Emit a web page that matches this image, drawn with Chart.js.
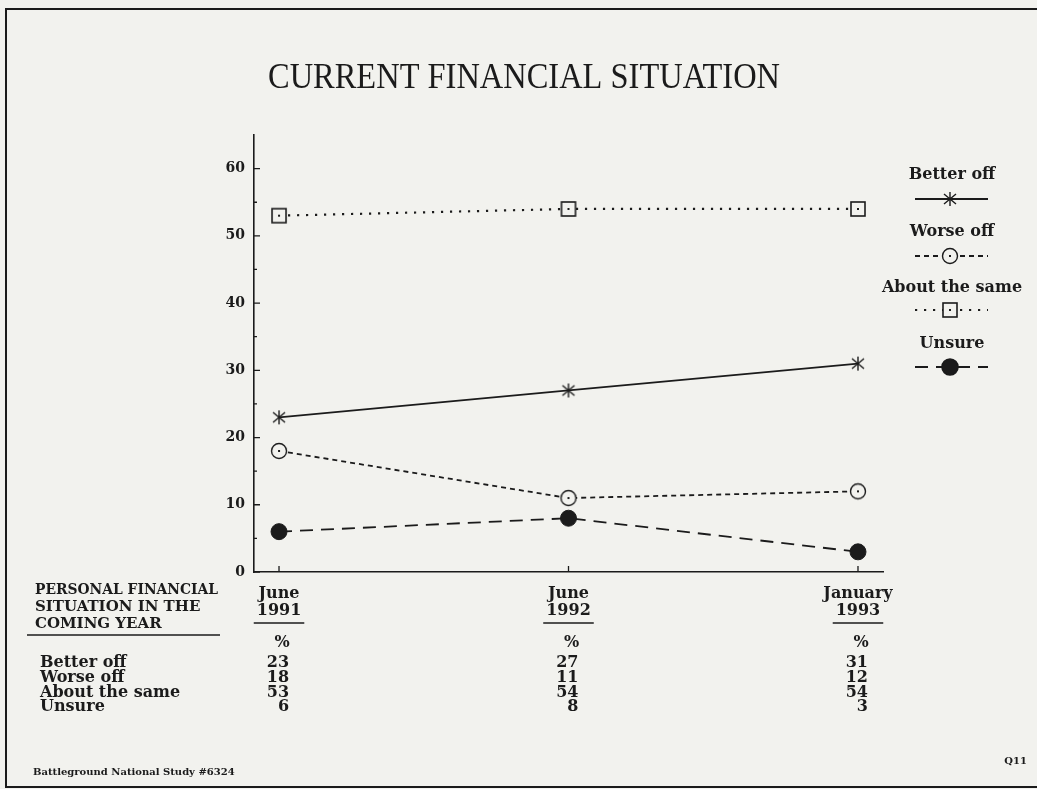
<!DOCTYPE html>
<html>
<head>
<meta charset="utf-8">
<title>Current Financial Situation</title>
<script src="https://cdn.jsdelivr.net/npm/chart.js@4.4.1/dist/chart.umd.min.js"></script>
<style>
  html, body { margin: 0; padding: 0; background: #f2f2ee; }
  #wrap { position: relative; width: 1037px; height: 789px; }
</style>
</head>
<body>
<div id="wrap"><canvas id="chart" width="1037" height="789"></canvas></div>
<script>
// datos
const periodos = [['June', '1991'], ['June', '1992'], ['January', '1993']];
const seriesNames = ['Better off', 'Worse off', 'About the same', 'Unsure'];
const betterOff = [23, 27, 31];
const worseOff = [18, 11, 12];
const aboutSame = [53, 54, 54];
const unsure = [6, 8, 3];
const yTicks = [0, 10, 20, 30, 40, 50, 60];
const yMinorTicks = [5, 15, 25, 35, 45, 55];
const titulo = 'CURRENT FINANCIAL SITUATION';
const tableHeader = ['PERSONAL FINANCIAL', 'SITUATION IN THE', 'COMING YEAR'];
const footer = 'Battleground National Study #6324';
const questionId = 'Q11';

const PAPER = '#f2f2ee';
const INK = '#1b1b1b';
const SERIF = "'DejaVu Serif', serif";

function markerCanvas(size, draw) {
    const c = document.createElement('canvas');
    c.width = size;
    c.height = size;
    const g = c.getContext('2d');
    g.strokeStyle = INK;
    g.fillStyle = INK;
    draw(g, size / 2);
    return c;
}

const asterisco = markerCanvas(18, (g, m) => {
    g.lineWidth = 1.4;
    g.beginPath();
    g.moveTo(m, m - 7); g.lineTo(m, m + 7);
    g.moveTo(m - 6, m - 5); g.lineTo(m + 6, m + 5);
    g.moveTo(m - 6, m + 5); g.lineTo(m + 6, m - 5);
    g.stroke();
});

const circuloPunto = markerCanvas(20, (g, m) => {
    g.lineWidth = 1.4;
    g.fillStyle = PAPER;
    g.beginPath();
    g.arc(m, m, 7.5, 0, Math.PI * 2);
    g.fill();
    g.stroke();
    g.fillStyle = INK;
    g.fillRect(m - 1, m - 1, 2, 2);
});

const cuadroPunto = markerCanvas(18, (g, m) => {
    g.lineWidth = 1.6;
    g.fillStyle = PAPER;
    g.fillRect(2, 2, 14, 14);
    g.strokeRect(2, 2, 14, 14);
    g.fillStyle = INK;
    g.fillRect(m - 1, m - 1, 2, 2);
});

const toPoints = arr => arr.map((v, i) => ({ x: i, y: v }));

const datasets = [
    { label: seriesNames[0], data: toPoints(betterOff), borderDash: [], borderWidth: 1.8, pointStyle: asterisco, pointRadius: 7, pointBackgroundColor: INK },
    { label: seriesNames[1], data: toPoints(worseOff), borderDash: [5, 4], borderWidth: 1.8, pointStyle: circuloPunto, pointRadius: 8, pointBackgroundColor: PAPER },
    { label: seriesNames[2], data: toPoints(aboutSame), borderDash: [2.2, 6.8], borderWidth: 2.2, pointStyle: cuadroPunto, pointRadius: 8, pointBackgroundColor: PAPER },
    { label: seriesNames[3], data: toPoints(unsure), borderDash: [13, 8], borderWidth: 1.8, pointStyle: 'circle', pointRadius: 8, pointBackgroundColor: INK }
].map(d => Object.assign(d, {
    borderColor: INK,
    pointBorderColor: INK,
    pointBorderWidth: 1,
    tension: 0
}));

const tableRows = [betterOff, worseOff, aboutSame, unsure];

// todo lo que no es del eje: titulo, leyenda, tabla, pie
const decoracion = {
    id: 'decoracion',
    afterDraw(chart) {
        const ctx = chart.ctx;
        const x = chart.scales.x;
        const y = chart.scales.y;
        ctx.save();
        ctx.strokeStyle = INK;
        ctx.fillStyle = INK;

        // marco
        ctx.lineWidth = 2;
        ctx.beginPath();
        ctx.moveTo(1037, 9); ctx.lineTo(6, 9); ctx.lineTo(6, 787); ctx.lineTo(1037, 787);
        ctx.stroke();

        // titulo
        ctx.font = "35px 'Liberation Serif', serif";
        ctx.textAlign = 'left';
        ctx.textBaseline = 'middle';
        ctx.fillText(titulo, 268, 79, 512);

        // marcas de los ejes
        ctx.lineWidth = 1.3;
        ctx.beginPath();
        yTicks.forEach(v => {
            const py = y.getPixelForValue(v);
            ctx.moveTo(x.left, py); ctx.lineTo(x.left + 6, py);
        });
        yMinorTicks.forEach(v => {
            const py = y.getPixelForValue(v);
            ctx.moveTo(x.left, py); ctx.lineTo(x.left + 3, py);
        });
        periodos.forEach((p, i) => {
            const px = x.getPixelForValue(i);
            ctx.moveTo(px, y.bottom); ctx.lineTo(px, y.bottom - 6);
        });
        ctx.stroke();

        // subrayado de los anos y columnas de la tabla
        ctx.font = 'bold 16px ' + SERIF;
        ctx.lineWidth = 1.6;
        periodos.forEach((p, i) => {
            const px = x.getPixelForValue(i);
            const w = ctx.measureText(p[1]).width + 6;
            ctx.beginPath();
            ctx.moveTo(px - w / 2, 623); ctx.lineTo(px + w / 2, 623);
            ctx.stroke();
        });

        ctx.font = 'bold 16px ' + SERIF;
        ctx.textBaseline = 'middle';
        periodos.forEach((p, i) => {
            const px = x.getPixelForValue(i);
            ctx.textAlign = 'center';
            ctx.fillText('%', px + 3, 643);
            ctx.textAlign = 'right';
            tableRows.forEach((row, r) => {
                ctx.fillText(String(row[i]), px + 10, 663 + r * 14.7);
            });
        });

        ctx.textAlign = 'left';
        seriesNames.forEach((name, r) => {
            ctx.fillText(name, 40, 663 + r * 14.7);
        });

        // cabecera de la tabla
        ctx.font = 'bold 15px ' + SERIF;
        tableHeader.forEach((line, r) => {
            ctx.fillText(line, 35, 590 + r * 17, 183);
        });
        ctx.lineWidth = 1.6;
        ctx.beginPath();
        ctx.moveTo(27, 635); ctx.lineTo(220, 635);
        ctx.stroke();

        // leyenda
        const legTextY = [175, 232, 288, 344];
        const legLineY = [199, 256, 310, 367];
        chart.data.datasets.forEach((ds, i) => {
            ctx.font = 'bold 16px ' + SERIF;
            ctx.textAlign = 'center';
            ctx.fillStyle = INK;
            ctx.fillText(ds.label, 952, legTextY[i]);
            ctx.save();
            ctx.lineWidth = ds.borderWidth;
            ctx.setLineDash(ds.borderDash);
            ctx.beginPath();
            ctx.moveTo(915, legLineY[i]); ctx.lineTo(988, legLineY[i]);
            ctx.stroke();
            ctx.restore();
            ctx.fillStyle = ds.pointBackgroundColor;
            Chart.helpers.drawPoint(ctx, {
                pointStyle: ds.pointStyle,
                radius: ds.pointRadius,
                rotation: 0,
                borderWidth: 1
            }, 950, legLineY[i]);
            ctx.fillStyle = INK;
        });

        // pie
        ctx.font = 'bold 10px ' + SERIF;
        ctx.textAlign = 'left';
        ctx.fillText(footer, 33, 772, 212);
        ctx.textAlign = 'right';
        ctx.fillText(questionId, 1027, 761);

        ctx.restore();
    }
};

const chart = new Chart(document.getElementById('chart'), {
    type: 'line',
    data: { datasets },
    options: {
        responsive: false,
        animation: false,
        layout: { padding: { left: 204, right: 154, top: 135, bottom: 157 } },
        plugins: {
            legend: { display: false },
            tooltip: { enabled: false }
        },
        scales: {
            x: {
                type: 'linear',
                min: -0.0864,
                max: 2.0864,
                afterBuildTicks: s => { s.ticks = periodos.map((p, i) => ({ value: i })); },
                afterFit: s => { s.height = 60; },
                grid: { display: false, drawTicks: false },
                border: { color: INK, width: 1.6 },
                ticks: {
                    callback: v => periodos[v],
                    color: INK,
                    font: { family: SERIF, size: 16, weight: 'bold', lineHeight: 1.06 },
                    padding: 13,
                    maxRotation: 0,
                    autoSkip: false
                }
            },
            y: {
                min: 0,
                max: 65,
                afterBuildTicks: s => { s.ticks = yTicks.map(v => ({ value: v })); },
                afterFit: s => { s.width = 50; },
                grid: { display: false, drawTicks: false },
                border: { color: INK, width: 1.6 },
                ticks: {
                    color: INK,
                    font: { family: SERIF, size: 14, weight: 'bold' },
                    padding: 9
                }
            }
        }
    },
    plugins: [decoracion]
});
</script>
</body>
</html>
